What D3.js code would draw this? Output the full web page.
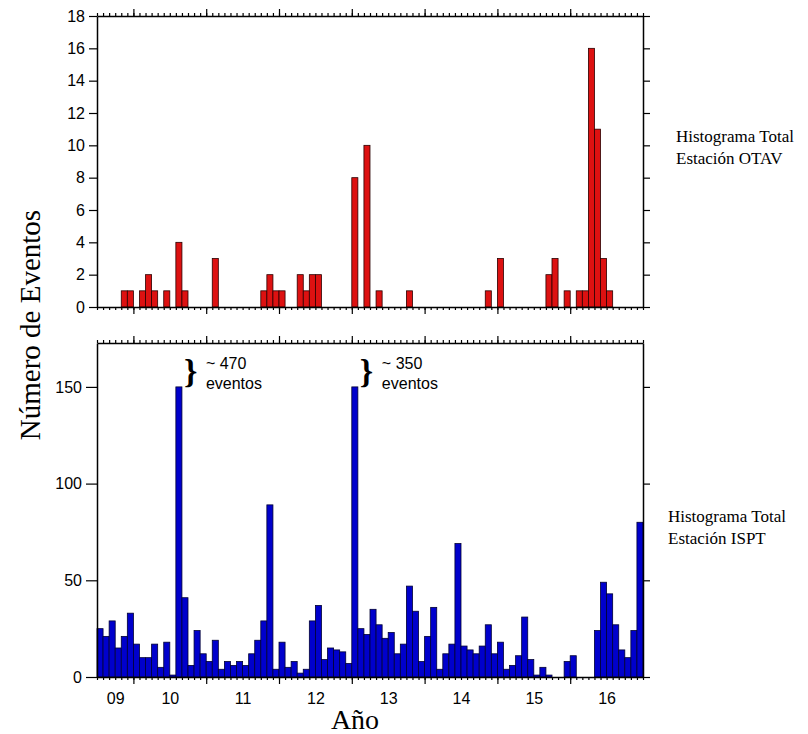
<!DOCTYPE html>
<html>
<head>
<meta charset="utf-8">
<script src="https://cdn.jsdelivr.net/npm/d3@7"></script>
<style>
  body { margin: 0; background: #fff; }
  .tick text { font-family: "Liberation Sans", Arial, sans-serif; font-size: 16px; fill: #000; }
  .domain { stroke: #000; stroke-width: 1.5; }
  .tick line { stroke: #000; stroke-width: 1.2; }
  .serif { font-family: "Liberation Serif", "Times New Roman", serif; fill: #000; }
  .note { font-family: "Liberation Sans", Arial, sans-serif; font-size: 16px; fill: #000; }
</style>
</head>
<body>
<svg id="chart" width="808" height="734"></svg>
<script>
// monthly bins, July 2009 -> Dec 2016
const startYear = 2009.5;
const endYear = 2017;
const yearLabels = ["09", "10", "11", "12", "13", "14", "15", "16"];

// station OTAV, events per month
const otavCounts = [
  0, 0, 0, 0, 1, 1, 0, 1, 2, 1, 0, 1, 0, 4, 1, 0, 0, 0, 0, 3,
  0, 0, 0, 0, 0, 0, 0, 1, 2, 1, 1, 0, 0, 2, 1, 2, 2, 0, 0, 0,
  0, 0, 8, 0, 10, 0, 1, 0, 0, 0, 0, 1, 0, 0, 0, 0, 0, 0, 0, 0,
  0, 0, 0, 0, 1, 0, 3, 0, 0, 0, 0, 0, 0, 0, 2, 3, 0, 1, 0, 1,
  1, 16, 11, 3, 1, 0, 0, 0, 0, 0
];

// station ISPT, events per month (two months go off the scale)
const isptCounts = [
  25, 21, 29, 15, 21, 33, 17, 10, 10, 17, 5, 18, 1, 470, 41, 6, 24, 12, 8, 19,
  4, 8, 6, 8, 6, 12, 19, 29, 89, 4, 18, 5, 8, 2, 4, 29, 37, 9, 15, 14,
  13, 7, 350, 25, 22, 35, 27, 20, 23, 12, 17, 47, 34, 8, 21, 36, 4, 12, 17, 69,
  16, 14, 12, 16, 27, 12, 18, 4, 6, 11, 31, 9, 1, 5, 1, 0, 0, 8, 11, 0,
  0, 0, 24, 49, 43, 27, 14, 10, 24, 80
];

const otavTicks = [0, 2, 4, 6, 8, 10, 12, 14, 16, 18];
const isptTicks = [0, 50, 100, 150];
const isptCap = 150;

const svg = d3.select("#chart");

const xScale = d3.scaleLinear().domain([startYear, endYear]).range([97, 643]);
const monthTicks = d3.range(0, 91).map((i) => startYear + i / 12);
const yearTicks = d3.range(2010, 2017);
const labelPos = yearLabels.map((d, i) => {
  const y0 = Math.max(2009 + i, startYear);
  const y1 = Math.min(2010 + i, endYear);
  return (y0 + y1) / 2;
});
const barW = xScale(startYear + 1 / 12) - xScale(startYear);

function drawPanel(counts, yScale, ticks, fill, stroke, leftTick, showYears) {
  const [y0, y1] = yScale.range();
  const g = svg.append("g");

  const bars = counts
    .map((v, i) => ({ i, v }))
    .filter((d) => d.v > 0);

  g.selectAll(".bar")
    .data(bars)
    .enter()
    .append("rect")
    .attr("class", "bar")
    .attr("x", (d) => xScale(startYear + d.i / 12))
    .attr("width", barW)
    .attr("y", (d) => yScale(Math.min(d.v, isptCap)))
    .attr("height", (d) => y0 - yScale(Math.min(d.v, isptCap)))
    .attr("fill", fill)
    .attr("stroke", stroke)
    .attr("stroke-width", 0.8);

  // month ticks (minor) and year ticks (major), top and bottom
  const noLabel = () => "";
  g.append("g")
    .attr("transform", `translate(0,${y0})`)
    .call(d3.axisBottom(xScale).tickValues(monthTicks).tickSize(3).tickSizeOuter(0).tickFormat(noLabel));
  g.append("g")
    .attr("transform", `translate(0,${y0})`)
    .call(d3.axisBottom(xScale).tickValues(yearTicks).tickSize(7).tickSizeOuter(0).tickFormat(noLabel))
    .call((a) => a.select(".domain").remove());
  g.append("g")
    .attr("transform", `translate(0,${y1})`)
    .call(d3.axisTop(xScale).tickValues(monthTicks).tickSize(3).tickSizeOuter(0).tickFormat(noLabel));
  g.append("g")
    .attr("transform", `translate(0,${y1})`)
    .call(d3.axisTop(xScale).tickValues(yearTicks).tickSize(7).tickSizeOuter(0).tickFormat(noLabel))
    .call((a) => a.select(".domain").remove());

  g.append("g")
    .attr("transform", `translate(${xScale.range()[0]},0)`)
    .call(d3.axisLeft(yScale).tickValues(ticks).tickSize(leftTick).tickSizeOuter(0).tickPadding(4));
  g.append("g")
    .attr("transform", `translate(${xScale.range()[1]},0)`)
    .call(d3.axisRight(yScale).tickValues(ticks).tickSize(7).tickSizeOuter(0).tickFormat(noLabel));

  if (showYears) {
    g.append("g")
      .attr("transform", `translate(0,${y0})`)
      .call(d3.axisBottom(xScale).tickValues(labelPos).tickSize(0).tickPadding(16)
        .tickFormat((d, i) => yearLabels[i]))
      .call((a) => a.select(".domain").remove());
  }
  return g;
}

const yTop = d3.scaleLinear().domain([0, 18]).range([307, 16]);
const yBottom = d3.scaleLinear().domain([0, 172.7]).range([677, 343]);

drawPanel(otavCounts, yTop, otavTicks, "#dd1111", "#2a0000", 8, false);
drawPanel(isptCounts, yBottom, isptTicks, "#0000cc", "#000033", 11, true);

// notes for the clipped months
isptCounts.forEach((v, i) => {
  if (v <= isptCap) return;
  const bx = xScale(startYear + (i + 1) / 12) + 2;
  svg.append("text")
    .attr("class", "serif")
    .attr("x", bx)
    .attr("y", 383)
    .attr("font-size", 34)
    .attr("font-weight", "bold")
    .text("}");
  svg.append("text").attr("class", "note").attr("x", bx + 22).attr("y", 369).text("~ " + v);
  svg.append("text").attr("class", "note").attr("x", bx + 22).attr("y", 389).text("eventos");
});

svg.append("text")
  .attr("class", "serif")
  .attr("font-size", 29)
  .attr("text-anchor", "middle")
  .attr("transform", "translate(40,325) rotate(-90)")
  .text("Número de Eventos");

svg.append("text")
  .attr("class", "serif")
  .attr("font-size", 28)
  .attr("text-anchor", "middle")
  .attr("x", 355)
  .attr("y", 729)
  .text("Año");

const sideLabels = [
  { x: 676, y: 142, lines: ["Histograma Total", "Estación OTAV"] },
  { x: 668, y: 522, lines: ["Histograma Total", "Estación ISPT"] },
];
sideLabels.forEach((s) => {
  s.lines.forEach((t, k) => {
    svg.append("text")
      .attr("class", "serif")
      .attr("font-size", 17)
      .attr("x", s.x)
      .attr("y", s.y + k * 22)
      .text(t);
  });
});
</script>
</body>
</html>
